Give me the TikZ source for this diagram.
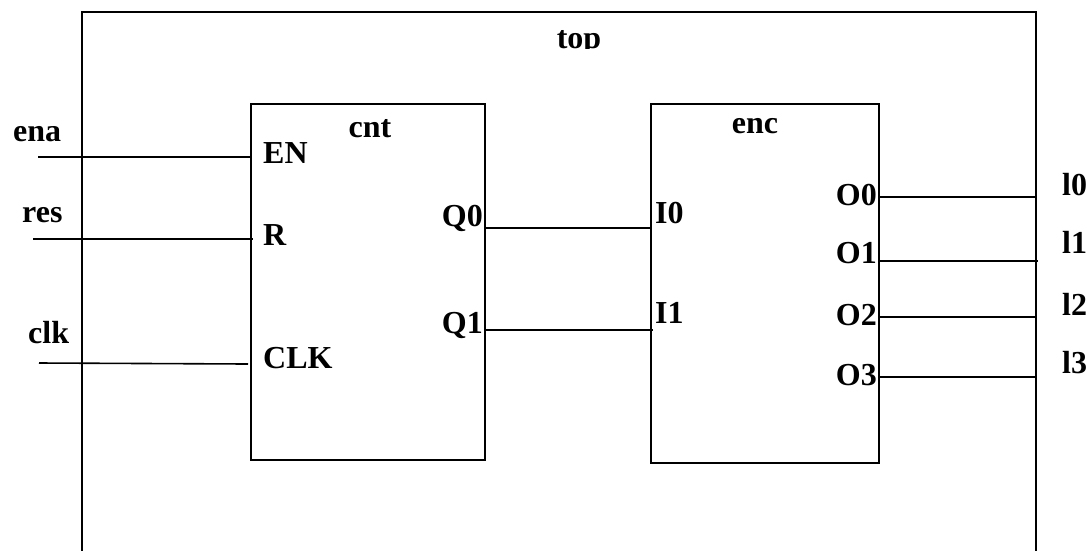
\documentclass[tikz,border=0pt]{standalone}
\usepackage{fontspec}
\setmainfont{Liberation Serif}
\begin{document}
\begin{tikzpicture}[x=1pt,y=-1pt,
  wire/.style={line width=1.6pt},
  blk/.style={draw,line width=1.6pt,anchor=north west,inner sep=0pt},
  lbl/.style={inner sep=0pt,font=\fontsize{32}{38}\selectfont\bfseries}]
\useasboundingbox (0,0) rectangle (1087,550);
% outer module
\draw[wire] (82,552) -- (82,12) -- (1036,12) -- (1036,552);
\begin{scope}
\clip (0,0) rectangle (1087,48);
\node[lbl,anchor=base] (top) at (579,48) {top};
\end{scope}
% blocks
\node[blk,minimum width=234pt,minimum height=356pt] (cnt) at (250,103) {};
\node[blk,minimum width=228pt,minimum height=359pt] (enc) at (650,103) {};
\node[lbl,anchor=base] (cntl) at (370,137) {cnt};
\node[lbl,anchor=base] (encl) at (755,133) {enc};
% port labels
\node[lbl,anchor=base west] (en) at (263,163) {EN};
\node[lbl,anchor=base west] (r) at (263,245) {R};
\node[lbl,anchor=base west] (clkp) at (263,368) {CLK};
\node[lbl,anchor=base east] (q0l) at (483,226) {Q0};
\node[lbl,anchor=base east] (q1l) at (483,333) {Q1};
\node[lbl,anchor=base west] (i0l) at (655,223) {I0};
\node[lbl,anchor=base west] (i1l) at (655,323) {I1};
\node[lbl,anchor=base east] (o0l) at (877,205) {O0};
\node[lbl,anchor=base east] (o1l) at (877,263) {O1};
\node[lbl,anchor=base east] (o2l) at (877,325) {O2};
\node[lbl,anchor=base east] (o3l) at (877,385) {O3};
% external signal labels
\node[lbl,anchor=base west] (ena) at (13,141) {ena};
\node[lbl,anchor=base west] (res) at (22,222) {res};
\node[lbl,anchor=base west] (clk) at (28,343) {clk};
\node[lbl,anchor=base west] (l0) at (1062,195) {l0};
\node[lbl,anchor=base west] (l1) at (1062,253) {l1};
\node[lbl,anchor=base west] (l2) at (1062,315) {l2};
\node[lbl,anchor=base west] (l3) at (1062,373) {l3};
% wire end points
\coordinate (enaA) at (38,157);  \coordinate (enaB) at (250,157);
\coordinate (resA) at (33,239);  \coordinate (resB) at (253,239);
\coordinate (clkA) at (39,363);  \coordinate (clkB) at (248,364);
\coordinate (q0) at (484,228);   \coordinate (i0) at (650,228);
\coordinate (q1) at (484,330);   \coordinate (i1) at (653,330);
\coordinate (o0) at (878,197);   \coordinate (x0) at (1036,197);
\coordinate (o1) at (878,261);   \coordinate (x1) at (1038,261);
\coordinate (o2) at (878,317);   \coordinate (x2) at (1036,317);
\coordinate (o3) at (878,377);   \coordinate (x3) at (1036,377);
% wires
\draw[wire] (enaA) -- (enaB);
\draw[wire] (resA) -- (resB);
\draw[wire] (clkA) -- (clkB);
\draw[wire] (q0) -- (i0);
\draw[wire] (q1) -- (i1);
\draw[wire] (o0) -- (x0);
\draw[wire] (o1) -- (x1);
\draw[wire] (o2) -- (x2);
\draw[wire] (o3) -- (x3);
\end{tikzpicture}
\end{document}
